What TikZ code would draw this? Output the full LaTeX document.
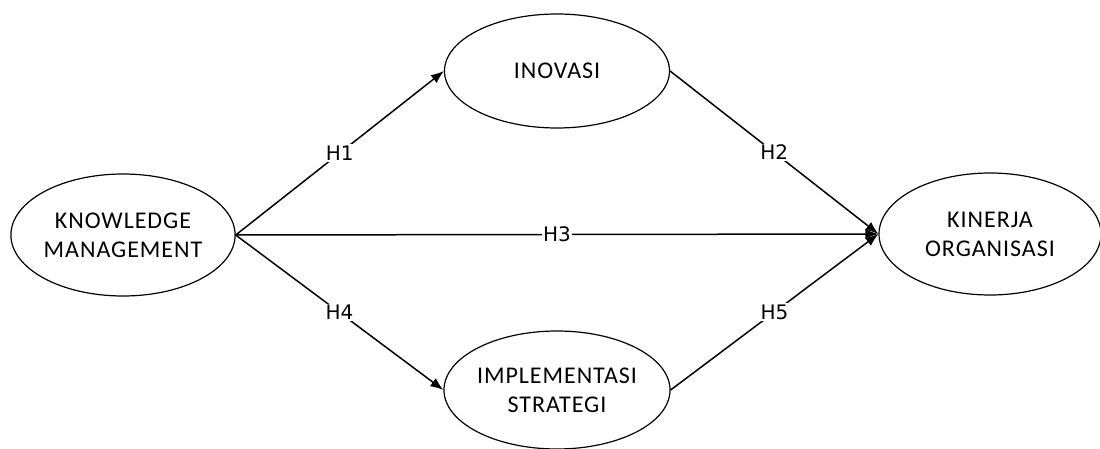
\documentclass[tikz,border=0pt]{standalone}
\usepackage{fontspec}
\setmainfont{Carlito}
\newfontfamily\ellfont[LetterSpace=4]{Carlito}
\newfontfamily\etiqfont{DejaVu Sans}
\usepackage{tikz}
\usetikzlibrary{shapes.geometric}
\usetikzlibrary{arrows.meta}
\usetikzlibrary{positioning}

\begin{document}
\begin{tikzpicture}[x=1pt,y=-1pt]
% définition des paramètres
\tikzstyle ellipsevar=[draw=black,ellipse,line width=1.2pt,inner sep=0pt,align=center,fill=white,font=\ellfont\fontsize{24}{29}\selectfont]
\tikzstyle flechevar=[draw=black,line width=1.5pt,-{Latex[length=13pt,width=10pt]}]
\tikzstyle etiquette=[fill=white,inner sep=1.5pt,font=\etiqfont\fontsize{20}{22}\selectfont]
% le cadre
\useasboundingbox (0,0) rectangle (1100,449);
% les variables
\node[ellipsevar,minimum width=223pt,minimum height=122pt] (km) at (123,235) {KNOWLEDGE\\MANAGEMENT};
\node[ellipsevar,minimum width=225pt,minimum height=114pt] (inov) at (557,71) {INOVASI};
\node[ellipsevar,minimum width=225pt,minimum height=118pt] (impl) at (557,390) {IMPLEMENTASI\\STRATEGI};
\node[ellipsevar,minimum width=222pt,minimum height=122pt] (kin) at (990,234) {KINERJA\\ORGANISASI};
% les hypothèses
\draw[flechevar] (km.east) -- node[etiquette] {H1} (inov.west);
\draw[flechevar] (inov.east) -- node[etiquette] {H2} (kin.west);
\draw[flechevar] (km.east) -- node[etiquette] {H3} (kin.west);
\draw[flechevar] (km.east) -- node[etiquette] {H4} (impl.west);
\draw[flechevar] (impl.east) -- node[etiquette] {H5} (kin.west);
\end{tikzpicture}
\end{document}
